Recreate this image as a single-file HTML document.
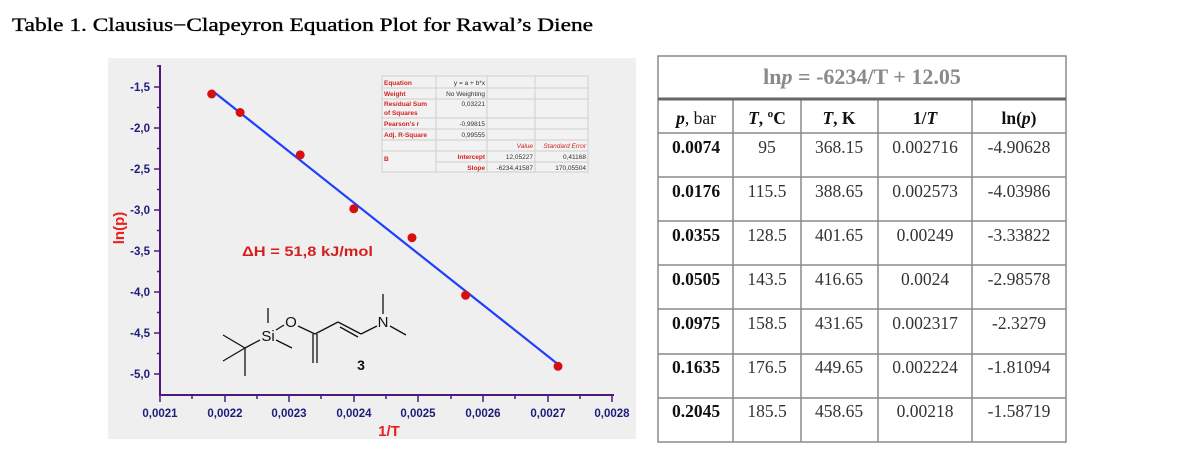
<!DOCTYPE html>
<html><head><meta charset="utf-8"><style>
html,body{margin:0;padding:0;background:#fff;}
body{width:1179px;height:467px;position:relative;overflow:hidden;}
</style></head><body>
<svg width="1179" height="467" viewBox="0 0 1179 467" xmlns="http://www.w3.org/2000/svg" style="position:absolute;left:0;top:0">
<text x="12" y="31" font-family="Liberation Serif, serif" font-size="18.5" fill="#000" stroke="#000" stroke-width="0.35" textLength="581" lengthAdjust="spacingAndGlyphs">Table 1. Clausius−Clapeyron Equation Plot for Rawal’s Diene</text>
<rect x="108" y="58" width="528" height="381" fill="#efefef"/>
<g stroke="#4b1a7a" stroke-width="2" fill="none">
<line x1="160" y1="65" x2="160" y2="396"/>
<line x1="159" y1="395" x2="614" y2="395"/>
</g>
<g stroke="#4b1a7a" stroke-width="1.5">
<line x1="154" y1="87" x2="160" y2="87"/><line x1="154" y1="128" x2="160" y2="128"/><line x1="154" y1="169" x2="160" y2="169"/><line x1="154" y1="210" x2="160" y2="210"/><line x1="154" y1="251" x2="160" y2="251"/><line x1="154" y1="292" x2="160" y2="292"/><line x1="154" y1="333" x2="160" y2="333"/><line x1="154" y1="374" x2="160" y2="374"/>
<line x1="157" y1="66" x2="160" y2="66"/><line x1="157" y1="107.5" x2="160" y2="107.5"/><line x1="157" y1="148.5" x2="160" y2="148.5"/><line x1="157" y1="189.5" x2="160" y2="189.5"/><line x1="157" y1="230.5" x2="160" y2="230.5"/><line x1="157" y1="271.5" x2="160" y2="271.5"/><line x1="157" y1="312.5" x2="160" y2="312.5"/><line x1="157" y1="353.5" x2="160" y2="353.5"/>
<line x1="160" y1="395" x2="160" y2="402"/><line x1="225" y1="395" x2="225" y2="402"/><line x1="289" y1="395" x2="289" y2="402"/><line x1="354" y1="395" x2="354" y2="402"/><line x1="418" y1="395" x2="418" y2="402"/><line x1="483" y1="395" x2="483" y2="402"/><line x1="548" y1="395" x2="548" y2="402"/><line x1="612" y1="395" x2="612" y2="402"/>
<line x1="192" y1="395" x2="192" y2="399"/><line x1="257" y1="395" x2="257" y2="399"/><line x1="321" y1="395" x2="321" y2="399"/><line x1="386" y1="395" x2="386" y2="399"/><line x1="451" y1="395" x2="451" y2="399"/><line x1="515" y1="395" x2="515" y2="399"/><line x1="580" y1="395" x2="580" y2="399"/>
</g>
<g font-family="Liberation Sans, sans-serif" font-weight="bold" font-size="11.5" fill="#1d1d7a" text-anchor="end">
<text x="150" y="91">-1,5</text><text x="150" y="132">-2,0</text><text x="150" y="173">-2,5</text><text x="150" y="214">-3,0</text><text x="150" y="255">-3,5</text><text x="150" y="296">-4,0</text><text x="150" y="337">-4,5</text><text x="150" y="378">-5,0</text>
</g>
<g font-family="Liberation Sans, sans-serif" font-weight="bold" font-size="11.5" fill="#1d1d7a" text-anchor="middle">
<text x="160" y="417">0,0021</text><text x="225" y="417">0,0022</text><text x="289" y="417">0,0023</text><text x="354" y="417">0,0024</text><text x="418" y="417">0,0025</text><text x="483" y="417">0,0026</text><text x="548" y="417">0,0027</text><text x="612" y="417">0,0028</text>
</g>
<text x="389" y="436" font-family="Liberation Sans, sans-serif" font-weight="bold" font-size="15" fill="#e8211d" text-anchor="middle">1/T</text>
<text transform="translate(124,228) rotate(-90)" font-family="Liberation Sans, sans-serif" font-weight="bold" font-size="15" fill="#e8211d" text-anchor="middle">ln(p)</text>
<text x="242" y="256" font-family="Liberation Sans, sans-serif" font-weight="bold" font-size="14" fill="#d41f1f" textLength="131" lengthAdjust="spacingAndGlyphs">ΔH = 51,8 kJ/mol</text>
<line x1="211.7" y1="90.3" x2="558" y2="364.2" stroke="#1f3fff" stroke-width="2.2"/>
<g fill="#d80f0f">
<circle cx="211.7" cy="94" r="4.5"/><circle cx="240.1" cy="112.5" r="4.5"/><circle cx="300.2" cy="154.9" r="4.5"/><circle cx="353.8" cy="208.8" r="4.5"/><circle cx="412" cy="237.7" r="4.5"/><circle cx="465.6" cy="295.3" r="4.5"/><circle cx="558" cy="366.3" r="4.5"/>
</g>
<rect x="382" y="76" width="206" height="96" fill="#f2f2f2" stroke="#cfcfcf"/>
<g stroke="#cfcfcf" stroke-width="1">
<line x1="436" y1="76" x2="436" y2="172"/><line x1="487" y1="76" x2="487" y2="172"/><line x1="535" y1="76" x2="535" y2="172"/>
<line x1="382" y1="88" x2="588" y2="88"/><line x1="382" y1="99" x2="588" y2="99"/><line x1="382" y1="118" x2="588" y2="118"/><line x1="382" y1="129" x2="588" y2="129"/><line x1="382" y1="140" x2="588" y2="140"/><line x1="382" y1="151" x2="588" y2="151"/><line x1="436" y1="162" x2="588" y2="162"/>
</g>
<g font-family="Liberation Sans, sans-serif" font-size="6.5" fill="#d41f1f" font-weight="bold">
<text x="384" y="85">Equation</text><text x="384" y="96">Weight</text><text x="384" y="106">Residual Sum</text><text x="384" y="115">of Squares</text><text x="384" y="126">Pearson's r</text><text x="384" y="137">Adj. R-Square</text><text x="384" y="161">B</text>
<text x="485" y="159" text-anchor="end">Intercept</text><text x="485" y="170" text-anchor="end">Slope</text>
</g>
<g font-family="Liberation Sans, sans-serif" font-size="6.5" fill="#d41f1f" font-style="italic" text-anchor="end">
<text x="533" y="148">Value</text><text x="586" y="148">Standard Error</text>
</g>
<g font-family="Liberation Sans, sans-serif" font-size="6.5" fill="#333" text-anchor="end">
<text x="485" y="85">y = a + b*x</text><text x="485" y="96">No Weighting</text><text x="485" y="106">0,03221</text><text x="485" y="126">-0,99815</text><text x="485" y="137">0,99555</text>
<text x="533" y="159">12,05227</text><text x="586" y="159">0,41168</text><text x="533" y="170">-6234,41587</text><text x="586" y="170">170,05504</text>
</g>
<g stroke="#111" stroke-width="1.3" fill="none">
<line x1="245" y1="348" x2="223" y2="335"/><line x1="245" y1="348" x2="223" y2="361"/><line x1="245" y1="348" x2="245" y2="376"/><line x1="245" y1="348" x2="260" y2="340"/>
<line x1="268" y1="308" x2="268" y2="323"/><line x1="276" y1="340" x2="292" y2="348"/><line x1="276" y1="330" x2="284" y2="325"/>
<line x1="298" y1="326" x2="315" y2="334"/><line x1="315" y1="334" x2="338" y2="322"/><line x1="313" y1="334" x2="313" y2="363"/><line x1="317" y1="334" x2="317" y2="363"/>
<line x1="338" y1="322" x2="361" y2="334"/><line x1="340" y1="327" x2="358" y2="337"/><line x1="361" y1="334" x2="377" y2="326"/>
<line x1="383" y1="294" x2="383" y2="314"/><line x1="390" y1="326" x2="406" y2="335"/>
</g>
<g font-family="Liberation Sans, sans-serif" font-size="15" fill="#111" text-anchor="middle">
<text x="268" y="341">Si</text><text x="291" y="327">O</text><text x="383" y="327">N</text>
</g>
<text x="361" y="370" font-family="Liberation Sans, sans-serif" font-size="14" font-weight="bold" fill="#111" text-anchor="middle">3</text>
<g stroke="#8a8a8a" stroke-width="1.5" fill="none">
<rect x="658" y="56" width="408" height="386"/>
<line x1="733" y1="100" x2="733" y2="442"/><line x1="801" y1="100" x2="801" y2="442"/><line x1="878" y1="100" x2="878" y2="442"/><line x1="972" y1="100" x2="972" y2="442"/>
<line x1="658" y1="133" x2="1066" y2="133"/><line x1="658" y1="177" x2="1066" y2="177"/><line x1="658" y1="221" x2="1066" y2="221"/><line x1="658" y1="265" x2="1066" y2="265"/><line x1="658" y1="309" x2="1066" y2="309"/><line x1="658" y1="354" x2="1066" y2="354"/><line x1="658" y1="398" x2="1066" y2="398"/>
</g>
<line x1="658" y1="99" x2="1066" y2="99" stroke="#666" stroke-width="3"/>
<text x="862" y="84" font-family="Liberation Serif, serif" font-weight="bold" font-size="22" fill="#8a8a8a" text-anchor="middle">ln<tspan font-style="italic">p</tspan> = -6234/T + 12.05</text>
<g font-family="Liberation Serif, serif" font-size="17.5" fill="#111" text-anchor="middle">
<text x="696" y="124"><tspan font-weight="bold" font-style="italic">p</tspan>, bar</text>
<text x="767" y="124" font-weight="bold"><tspan font-style="italic">T</tspan>, ºC</text>
<text x="839" y="124" font-weight="bold"><tspan font-style="italic">T</tspan>, K</text>
<text x="925" y="124" font-weight="bold">1/<tspan font-style="italic">T</tspan></text>
<text x="1019" y="124" font-weight="bold">ln(<tspan font-style="italic">p</tspan>)</text>
</g>
<g font-family="Liberation Serif, serif" font-size="17.5" fill="#333" text-anchor="middle">
<text x="696" y="153" font-weight="bold" fill="#111">0.0074</text><text x="767" y="153">95</text><text x="839" y="153">368.15</text><text x="925" y="153">0.002716</text><text x="1019" y="153">-4.90628</text>
<text x="696" y="197" font-weight="bold" fill="#111">0.0176</text><text x="767" y="197">115.5</text><text x="839" y="197">388.65</text><text x="925" y="197">0.002573</text><text x="1019" y="197">-4.03986</text>
<text x="696" y="241" font-weight="bold" fill="#111">0.0355</text><text x="767" y="241">128.5</text><text x="839" y="241">401.65</text><text x="925" y="241">0.00249</text><text x="1019" y="241">-3.33822</text>
<text x="696" y="285" font-weight="bold" fill="#111">0.0505</text><text x="767" y="285">143.5</text><text x="839" y="285">416.65</text><text x="925" y="285">0.0024</text><text x="1019" y="285">-2.98578</text>
<text x="696" y="329" font-weight="bold" fill="#111">0.0975</text><text x="767" y="329">158.5</text><text x="839" y="329">431.65</text><text x="925" y="329">0.002317</text><text x="1019" y="329">-2.3279</text>
<text x="696" y="373" font-weight="bold" fill="#111">0.1635</text><text x="767" y="373">176.5</text><text x="839" y="373">449.65</text><text x="925" y="373">0.002224</text><text x="1019" y="373">-1.81094</text>
<text x="696" y="417" font-weight="bold" fill="#111">0.2045</text><text x="767" y="417">185.5</text><text x="839" y="417">458.65</text><text x="925" y="417">0.00218</text><text x="1019" y="417">-1.58719</text>
</g>
</svg>
</body></html>
